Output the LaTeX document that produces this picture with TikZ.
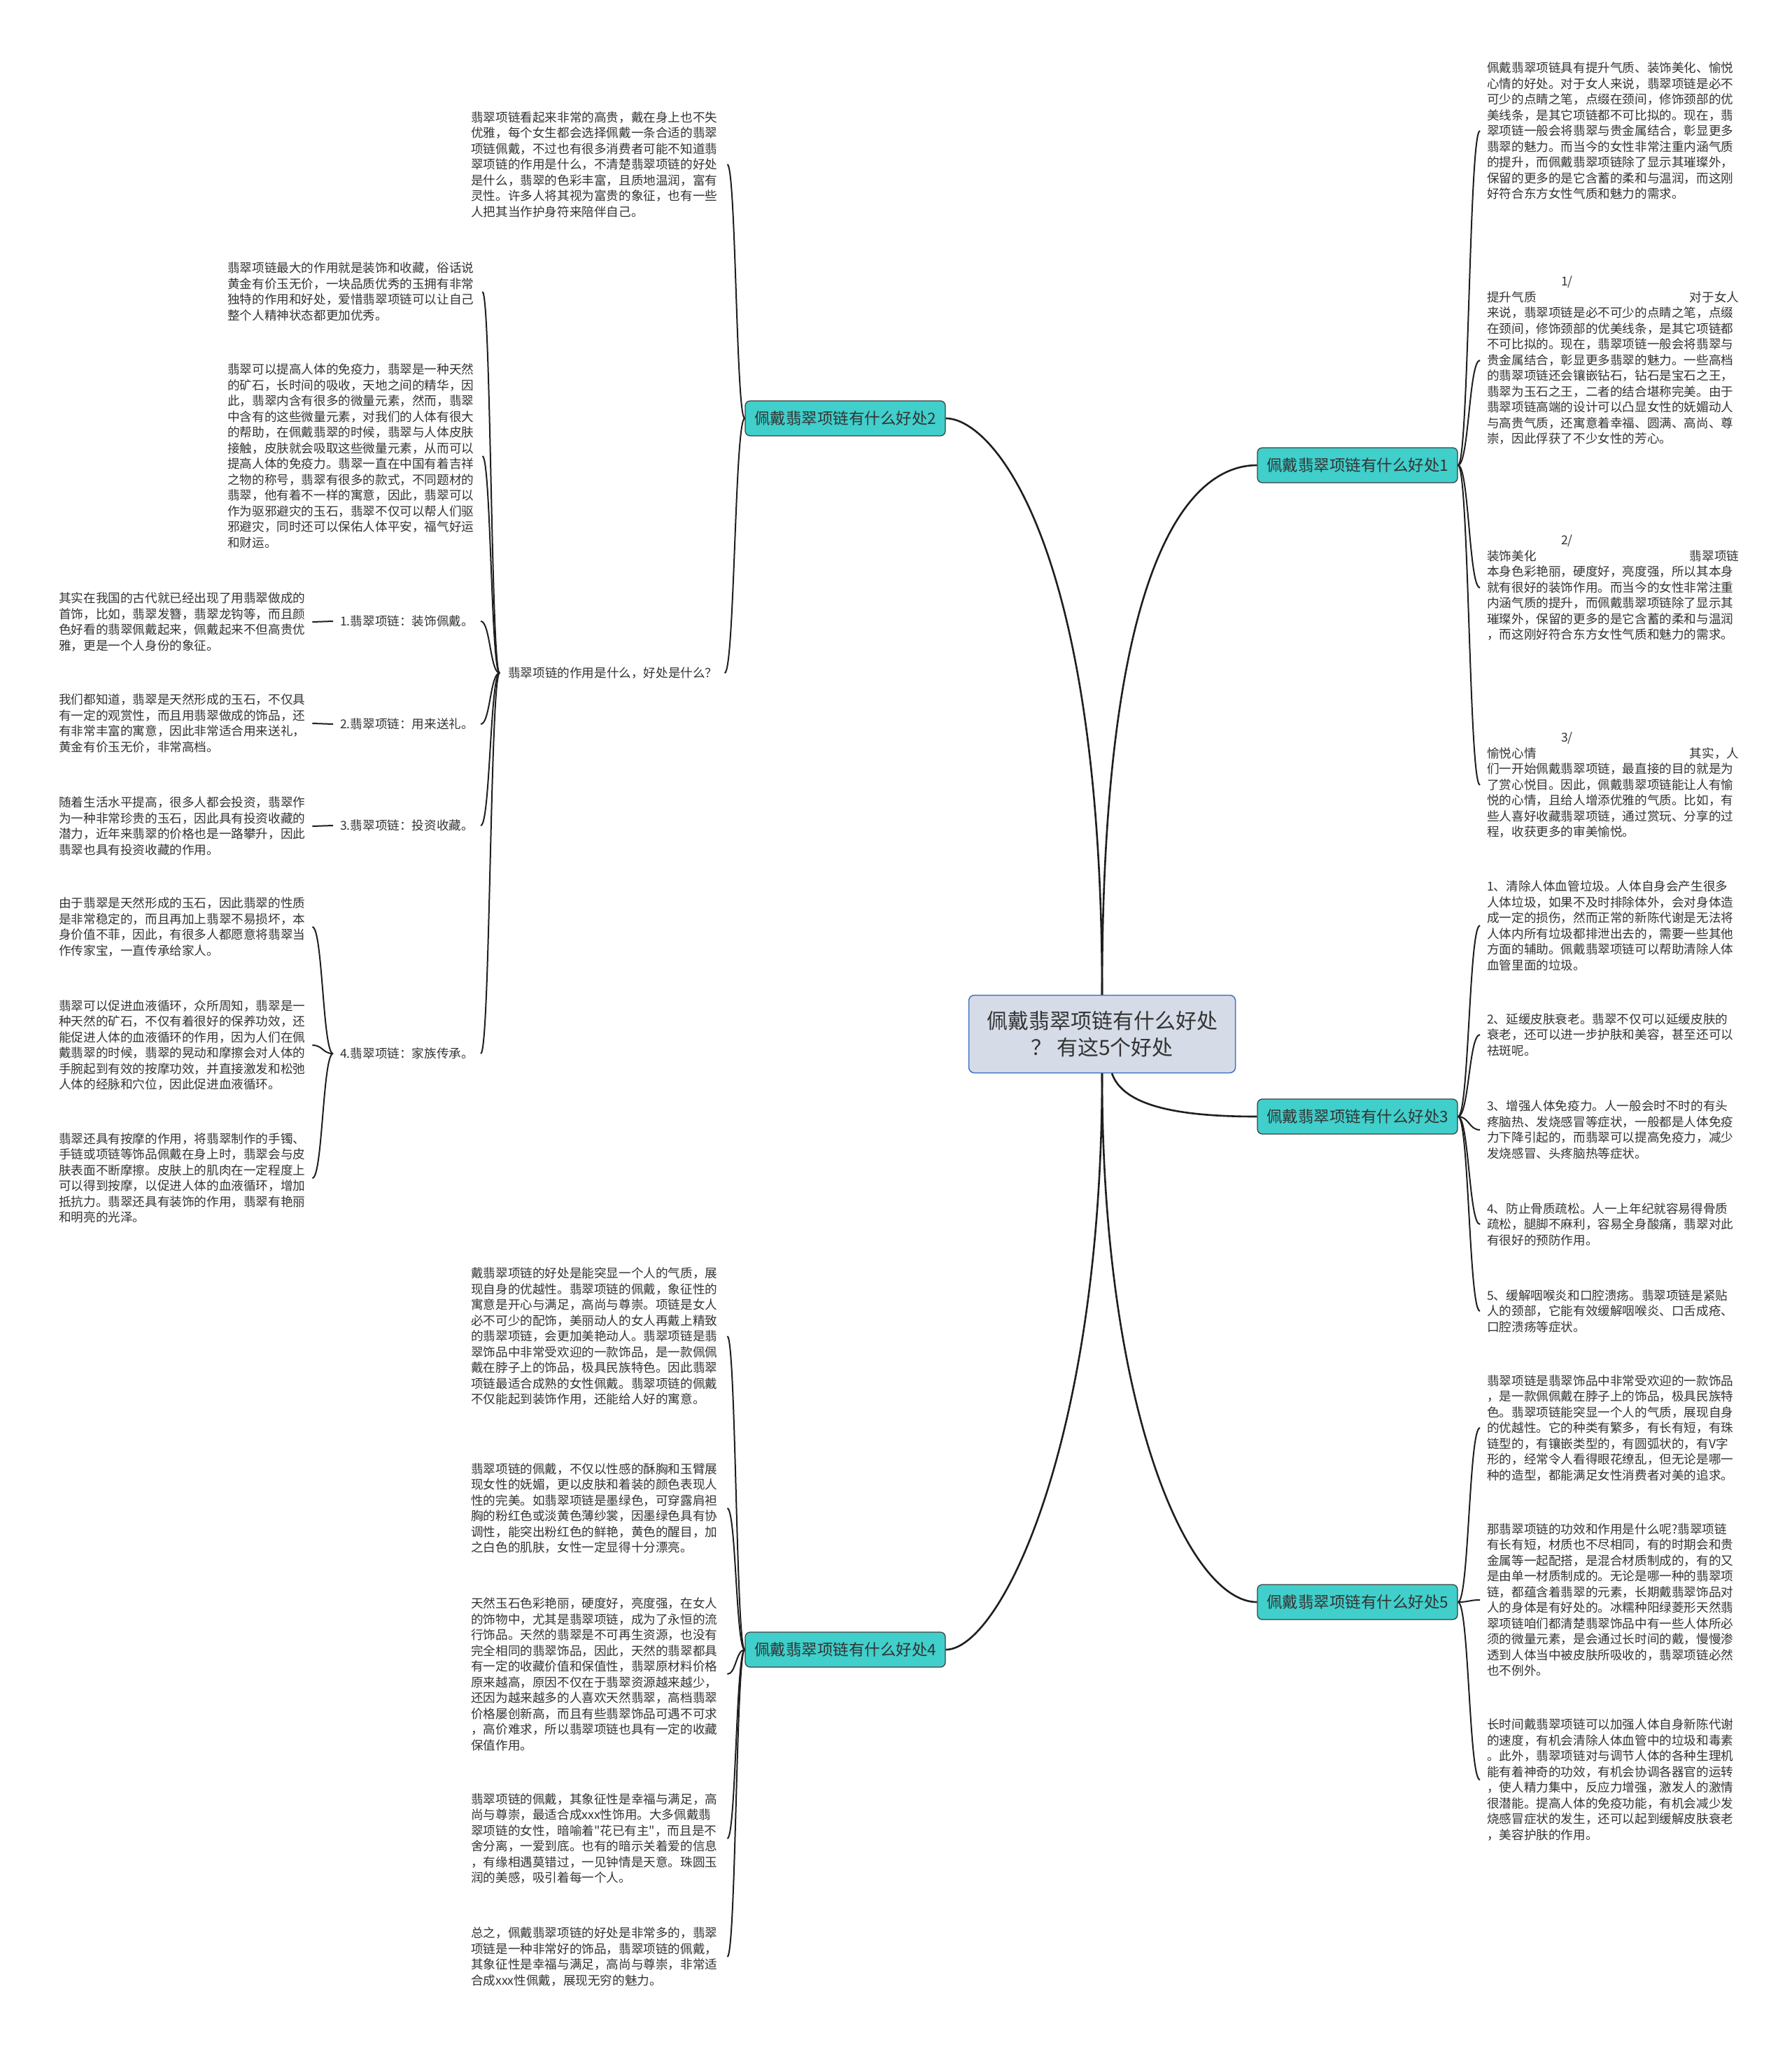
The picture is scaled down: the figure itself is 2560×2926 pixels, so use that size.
\documentclass[tikz,border=0pt]{standalone}
\usepackage{fontspec}
\setmainfont{Noto Sans CJK SC}[Ligatures=TeXOff]
\usetikzlibrary{calc}
\definecolor{teal1}{HTML}{40CFCB}
\definecolor{rootfill}{HTML}{D6DCE7}
\definecolor{rootdraw}{HTML}{3E73C8}
\definecolor{ink}{HTML}{333333}
\newcommand{\conn}[2]{\draw[link] let \p1=(#1), \p2=(#2) in (\p1) .. controls ({0.5*\x1+0.5*\x2},\y1) and ({0.5*\x1+0.5*\x2},\y2) .. (\p2);}
\begin{document}
\begin{tikzpicture}[x=1pt,y=-1pt,
 txt/.style={font=\fontsize{17.6}{22.5}\selectfont, text=ink, align=left, text width=360pt, inner sep=0pt, anchor=west},
 lbl/.style={font=\fontsize{17.6}{22.5}\selectfont, text=ink, inner sep=0pt, anchor=west},
 link/.style={draw=black!88, line width=2pt},
 mainlink/.style={draw=black!88, line width=2.6pt},
 branch/.style={draw=black!75, line width=1.3pt, fill=teal1, rounded corners=7pt, minimum width=286pt, minimum height=50pt, inner sep=0pt, font=\fontsize{22.5}{26}\selectfont, text=ink},
 root/.style={draw=rootdraw, line width=1.5pt, fill=rootfill, rounded corners=8pt, minimum width=381pt, minimum height=111pt, inner sep=0pt, align=center, font=\fontsize{30}{38}\selectfont, text=ink}]
\useasboundingbox (0,0) rectangle (2560,2926);
\fill[white] (0,0) rectangle (2560,2926);

% ---------- main nodes ----------
\node[root] (root) at (1575,1478) {佩戴翡翠项链有什么好处\\？ 有这5个好处};
\node[branch] (b1) at (1940,665) {佩戴翡翠项链有什么好处1};
\node[branch] (b2) at (1208,598) {佩戴翡翠项链有什么好处2};
\node[branch] (b3) at (1940,1596) {佩戴翡翠项链有什么好处3};
\node[branch] (b4) at (1208,2358) {佩戴翡翠项链有什么好处4};
\node[branch] (b5) at (1940,2290) {佩戴翡翠项链有什么好处5};

% ---------- branch 1 ----------
\node[txt] (r1a) at (2125,187) {佩戴翡翠项链具有提升气质、装饰美化、愉悦\\心情的好处。对于女人来说，翡翠项链是必不\\可少的点睛之笔，点缀在颈间，修饰颈部的优\\美线条，是其它项链都不可比拟的。现在，翡\\翠项链一般会将翡翠与贵金属结合，彰显更多\\翡翠的魅力。而当今的女性非常注重内涵气质\\的提升，而佩戴翡翠项链除了显示其璀璨外，\\保留的更多的是它含蓄的柔和与温润，而这刚\\好符合东方女性气质和魅力的需求。};
\node[txt] (r1b) at (2125,515) {\hspace*{106pt}1/\\提升气质\hfill 对于女人\hspace*{8pt}\\来说，翡翠项链是必不可少的点睛之笔，点缀\\在颈间，修饰颈部的优美线条，是其它项链都\\不可比拟的。现在，翡翠项链一般会将翡翠与\\贵金属结合，彰显更多翡翠的魅力。一些高档\\的翡翠项链还会镶嵌钻石，钻石是宝石之王，\\翡翠为玉石之王，二者的结合堪称完美。由于\\翡翠项链高端的设计可以凸显女性的妩媚动人\\与高贵气质，还寓意着幸福、圆满、高尚、尊\\崇，因此俘获了不少女性的芳心。};
\node[txt] (r1c) at (2125,840) {\hspace*{106pt}2/\\装饰美化\hfill 翡翠项链\hspace*{8pt}\\本身色彩艳丽，硬度好，亮度强，所以其本身\\就有很好的装饰作用。而当今的女性非常注重\\内涵气质的提升，而佩戴翡翠项链除了显示其\\璀璨外，保留的更多的是它含蓄的柔和与温润\\，而这刚好符合东方女性气质和魅力的需求。};
\node[txt] (r1d) at (2125,1122) {\hspace*{106pt}3/\\愉悦心情\hfill 其实，人\hspace*{8pt}\\们一开始佩戴翡翠项链，最直接的目的就是为\\了赏心悦目。因此，佩戴翡翠项链能让人有愉\\悦的心情，且给人增添优雅的气质。比如，有\\些人喜好收藏翡翠项链，通过赏玩、分享的过\\程，收获更多的审美愉悦。};

% ---------- branch 3 ----------
\node[txt] (r3a) at (2125,1323) {1、清除人体血管垃圾。人体自身会产生很多\\人体垃圾，如果不及时排除体外，会对身体造\\成一定的损伤，然而正常的新陈代谢是无法将\\人体内所有垃圾都排泄出去的，需要一些其他\\方面的辅助。佩戴翡翠项链可以帮助清除人体\\血管里面的垃圾。};
\node[txt] (r3b) at (2125,1479) {2、延缓皮肤衰老。翡翠不仅可以延缓皮肤的\\衰老，还可以进一步护肤和美容，甚至还可以\\祛斑呢。};
\node[txt] (r3c) at (2125,1615) {3、增强人体免疫力。人一般会时不时的有头\\疼脑热、发烧感冒等症状，一般都是人体免疫\\力下降引起的，而翡翠可以提高免疫力，减少\\发烧感冒、头疼脑热等症状。};
\node[txt] (r3d) at (2125,1750) {4、防止骨质疏松。人一上年纪就容易得骨质\\疏松，腿脚不麻利，容易全身酸痛，翡翠对此\\有很好的预防作用。};
\node[txt] (r3e) at (2125,1874) {5、缓解咽喉炎和口腔溃疡。翡翠项链是紧贴\\人的颈部，它能有效缓解咽喉炎、口舌成疮、\\口腔溃疡等症状。};

% ---------- branch 5 ----------
\node[txt] (r5a) at (2125,2041) {翡翠项链是翡翠饰品中非常受欢迎的一款饰品\\，是一款佩佩戴在脖子上的饰品，极具民族特\\色。翡翠项链能突显一个人的气质，展现自身\\的优越性。它的种类有繁多，有长有短，有珠\\链型的，有镶嵌类型的，有圆弧状的，有V字\\形的，经常令人看得眼花缭乱，但无论是哪一\\种的造型，都能满足女性消费者对美的追求。};
\node[txt] (r5b) at (2125,2287) {那翡翠项链的功效和作用是什么呢?翡翠项链\\有长有短，材质也不尽相同，有的时期会和贵\\金属等一起配搭，是混合材质制成的，有的又\\是由单一材质制成的。无论是哪一种的翡翠项\\链，都蕴含着翡翠的元素，长期戴翡翠饰品对\\人的身体是有好处的。冰糯种阳绿菱形天然翡\\翠项链咱们都清楚翡翠饰品中有一些人体所必\\须的微量元素，是会通过长时间的戴，慢慢渗\\透到人体当中被皮肤所吸收的，翡翠项链必然\\也不例外。};
\node[txt] (r5c) at (2125,2544) {长时间戴翡翠项链可以加强人体自身新陈代谢\\的速度，有机会清除人体血管中的垃圾和毒素\\。此外，翡翠项链对与调节人体的各种生理机\\能有着神奇的功效，有机会协调各器官的运转\\，使人精力集中，反应力增强，激发人的激情\\很潜能。提高人体的免疫功能，有机会减少发\\烧感冒症状的发生，还可以起到缓解皮肤衰老\\，美容护肤的作用。};

% ---------- branch 4 ----------
\node[txt] (l4a) at (673,1910) {戴翡翠项链的好处是能突显一个人的气质，展\\现自身的优越性。翡翠项链的佩戴，象征性的\\寓意是开心与满足，高尚与尊崇。项链是女人\\必不可少的配饰，美丽动人的女人再戴上精致\\的翡翠项链，会更加美艳动人。翡翠项链是翡\\翠饰品中非常受欢迎的一款饰品，是一款佩佩\\戴在脖子上的饰品，极具民族特色。因此翡翠\\项链最适合成熟的女性佩戴。翡翠项链的佩戴\\不仅能起到装饰作用，还能给人好的寓意。};
\node[txt] (l4b) at (673,2156) {翡翠项链的佩戴，不仅以性感的酥胸和玉臂展\\现女性的妩媚，更以皮肤和着装的颜色表现人\\性的完美。如翡翠项链是墨绿色，可穿露肩袒\\胸的粉红色或淡黄色薄纱裳，因墨绿色具有协\\调性，能突出粉红色的鲜艳，黄色的醒目，加\\之白色的肌肤，女性一定显得十分漂亮。};
\node[txt] (l4c) at (673,2393) {天然玉石色彩艳丽，硬度好，亮度强，在女人\\的饰物中，尤其是翡翠项链，成为了永恒的流\\行饰品。天然的翡翠是不可再生资源，也没有\\完全相同的翡翠饰品，因此，天然的翡翠都具\\有一定的收藏价值和保值性，翡翠原材料价格\\原来越高，原因不仅在于翡翠资源越来越少，\\还因为越来越多的人喜欢天然翡翠，高档翡翠\\价格屡创新高，而且有些翡翠饰品可遇不可求\\，高价难求，所以翡翠项链也具有一定的收藏\\保值作用。};
\node[txt] (l4d) at (673,2628) {翡翠项链的佩戴，其象征性是幸福与满足，高\\尚与尊崇，最适合成xxx性饰用。大多佩戴翡\\翠项链的女性，暗喻着"花已有主"，而且是不\\舍分离，一爱到底。也有的暗示关着爱的信息\\，有缘相遇莫错过，一见钟情是天意。珠圆玉\\润的美感，吸引着每一个人。};
\node[txt] (l4e) at (673,2797) {总之，佩戴翡翠项链的好处是非常多的，翡翠\\项链是一种非常好的饰品，翡翠项链的佩戴，\\其象征性是幸福与满足，高尚与尊崇，非常适\\合成xxx性佩戴，展现无穷的魅力。};

% ---------- branch 2 ----------
\node[txt] (l2a) at (673,235) {翡翠项链看起来非常的高贵，戴在身上也不失\\优雅，每个女生都会选择佩戴一条合适的翡翠\\项链佩戴，不过也有很多消费者可能不知道翡\\翠项链的作用是什么，不清楚翡翠项链的好处\\是什么，翡翠的色彩丰富，且质地温润，富有\\灵性。许多人将其视为富贵的象征，也有一些\\人把其当作护身符来陪伴自己。};
\node[lbl] (q) at (726,962) {翡翠项链的作用是什么，好处是什么？};
\node[txt] (la) at (325,417) {翡翠项链最大的作用就是装饰和收藏，俗话说\\黄金有价玉无价，一块品质优秀的玉拥有非常\\独特的作用和好处，爱惜翡翠项链可以让自己\\整个人精神状态都更加优秀。};
\node[txt] (lb) at (325,652) {翡翠可以提高人体的免疫力，翡翠是一种天然\\的矿石，长时间的吸收，天地之间的精华，因\\此，翡翠内含有很多的微量元素，然而，翡翠\\中含有的这些微量元素，对我们的人体有很大\\的帮助，在佩戴翡翠的时候，翡翠与人体皮肤\\接触，皮肤就会吸取这些微量元素，从而可以\\提高人体的免疫力。翡翠一直在中国有着吉祥\\之物的称号，翡翠有很多的款式，不同题材的\\翡翠，他有着不一样的寓意，因此，翡翠可以\\作为驱邪避灾的玉石，翡翠不仅可以帮人们驱\\邪避灾，同时还可以保佑人体平安，福气好运\\和财运。};
\node[lbl] (i1) at (486,888) {1.翡翠项链：装饰佩戴。};
\node[lbl] (i2) at (486,1035) {2.翡翠项链：用来送礼。};
\node[lbl] (i3) at (486,1180) {3.翡翠项链：投资收藏。};
\node[lbl] (i4) at (486,1506) {4.翡翠项链：家族传承。};
\node[txt] (f1) at (84,889) {其实在我国的古代就已经出现了用翡翠做成的\\首饰，比如，翡翠发簪，翡翠龙钩等，而且颜\\色好看的翡翠佩戴起来，佩戴起来不但高贵优\\雅，更是一个人身份的象征。};
\node[txt] (f2) at (84,1034) {我们都知道，翡翠是天然形成的玉石，不仅具\\有一定的观赏性，而且用翡翠做成的饰品，还\\有非常丰富的寓意，因此非常适合用来送礼，\\黄金有价玉无价，非常高档。};
\node[txt] (f3) at (84,1181) {随着生活水平提高，很多人都会投资，翡翠作\\为一种非常珍贵的玉石，因此具有投资收藏的\\潜力，近年来翡翠的价格也是一路攀升，因此\\翡翠也具有投资收藏的作用。};
\node[txt] (f4a) at (84,1325) {由于翡翠是天然形成的玉石，因此翡翠的性质\\是非常稳定的，而且再加上翡翠不易损坏，本\\身价值不菲，因此，有很多人都愿意将翡翠当\\作传家宝，一直传承给家人。};
\node[txt] (f4b) at (84,1494) {翡翠可以促进血液循环，众所周知，翡翠是一\\种天然的矿石，不仅有着很好的保养功效，还\\能促进人体的血液循环的作用，因为人们在佩\\戴翡翠的时候，翡翠的晃动和摩擦会对人体的\\手腕起到有效的按摩功效，并直接激发和松弛\\人体的经脉和穴位，因此促进血液循环。};
\node[txt] (f4c) at (84,1684) {翡翠还具有按摩的作用，将翡翠制作的手镯、\\手链或项链等饰品佩戴在身上时，翡翠会与皮\\肤表面不断摩擦。皮肤上的肌肉在一定程度上\\可以得到按摩，以促进人体的血液循环，增加\\抵抗力。翡翠还具有装饰的作用，翡翠有艳丽\\和明亮的光泽。};

% ---------- connectors from root ----------
\draw[mainlink] (root.north) .. controls (1575,780) and (1420,598) .. (b2.east);
\draw[mainlink] (root.north) .. controls (1575,800) and (1700,665) .. (b1.west);
\draw[mainlink] ([xshift=14pt]root.south) .. controls (1605,1580) and (1680,1596) .. (b3.west);
\draw[mainlink] (root.south) .. controls (1575,2020) and (1700,2290) .. (b5.west);
\draw[mainlink] (root.south) .. controls (1575,2060) and (1430,2358) .. (b4.east);

% ---------- sub connectors ----------
\foreach \t in {r1a,r1b,r1c,r1d}{\conn{b1.east}{[xshift=-10pt]\t.west}}
\foreach \t in {r3a,r3b,r3c,r3d,r3e}{\conn{b3.east}{[xshift=-10pt]\t.west}}
\foreach \t in {r5a,r5b,r5c}{\conn{b5.east}{[xshift=-10pt]\t.west}}
\foreach \t in {l4a,l4b,l4c,l4d,l4e}{\conn{b4.west}{[xshift=6pt]\t.east}}
\conn{b2.west}{[xshift=6pt]l2a.east}
\conn{b2.west}{[xshift=10pt]q.east}
\foreach \t in {la,lb}{\conn{[xshift=-12pt]q.west}{[xshift=4pt]\t.east}}
\foreach \t in {i1,i2,i3,i4}{\conn{[xshift=-12pt]q.west}{[xshift=10pt]\t.east}}
\conn{[xshift=-10pt]i1.west}{[xshift=2pt]f1.east}
\conn{[xshift=-10pt]i2.west}{[xshift=2pt]f2.east}
\conn{[xshift=-10pt]i3.west}{[xshift=2pt]f3.east}
\foreach \t in {f4a,f4b,f4c}{\conn{[xshift=-10pt]i4.west}{[xshift=2pt]\t.east}}
\end{tikzpicture}
\end{document}
